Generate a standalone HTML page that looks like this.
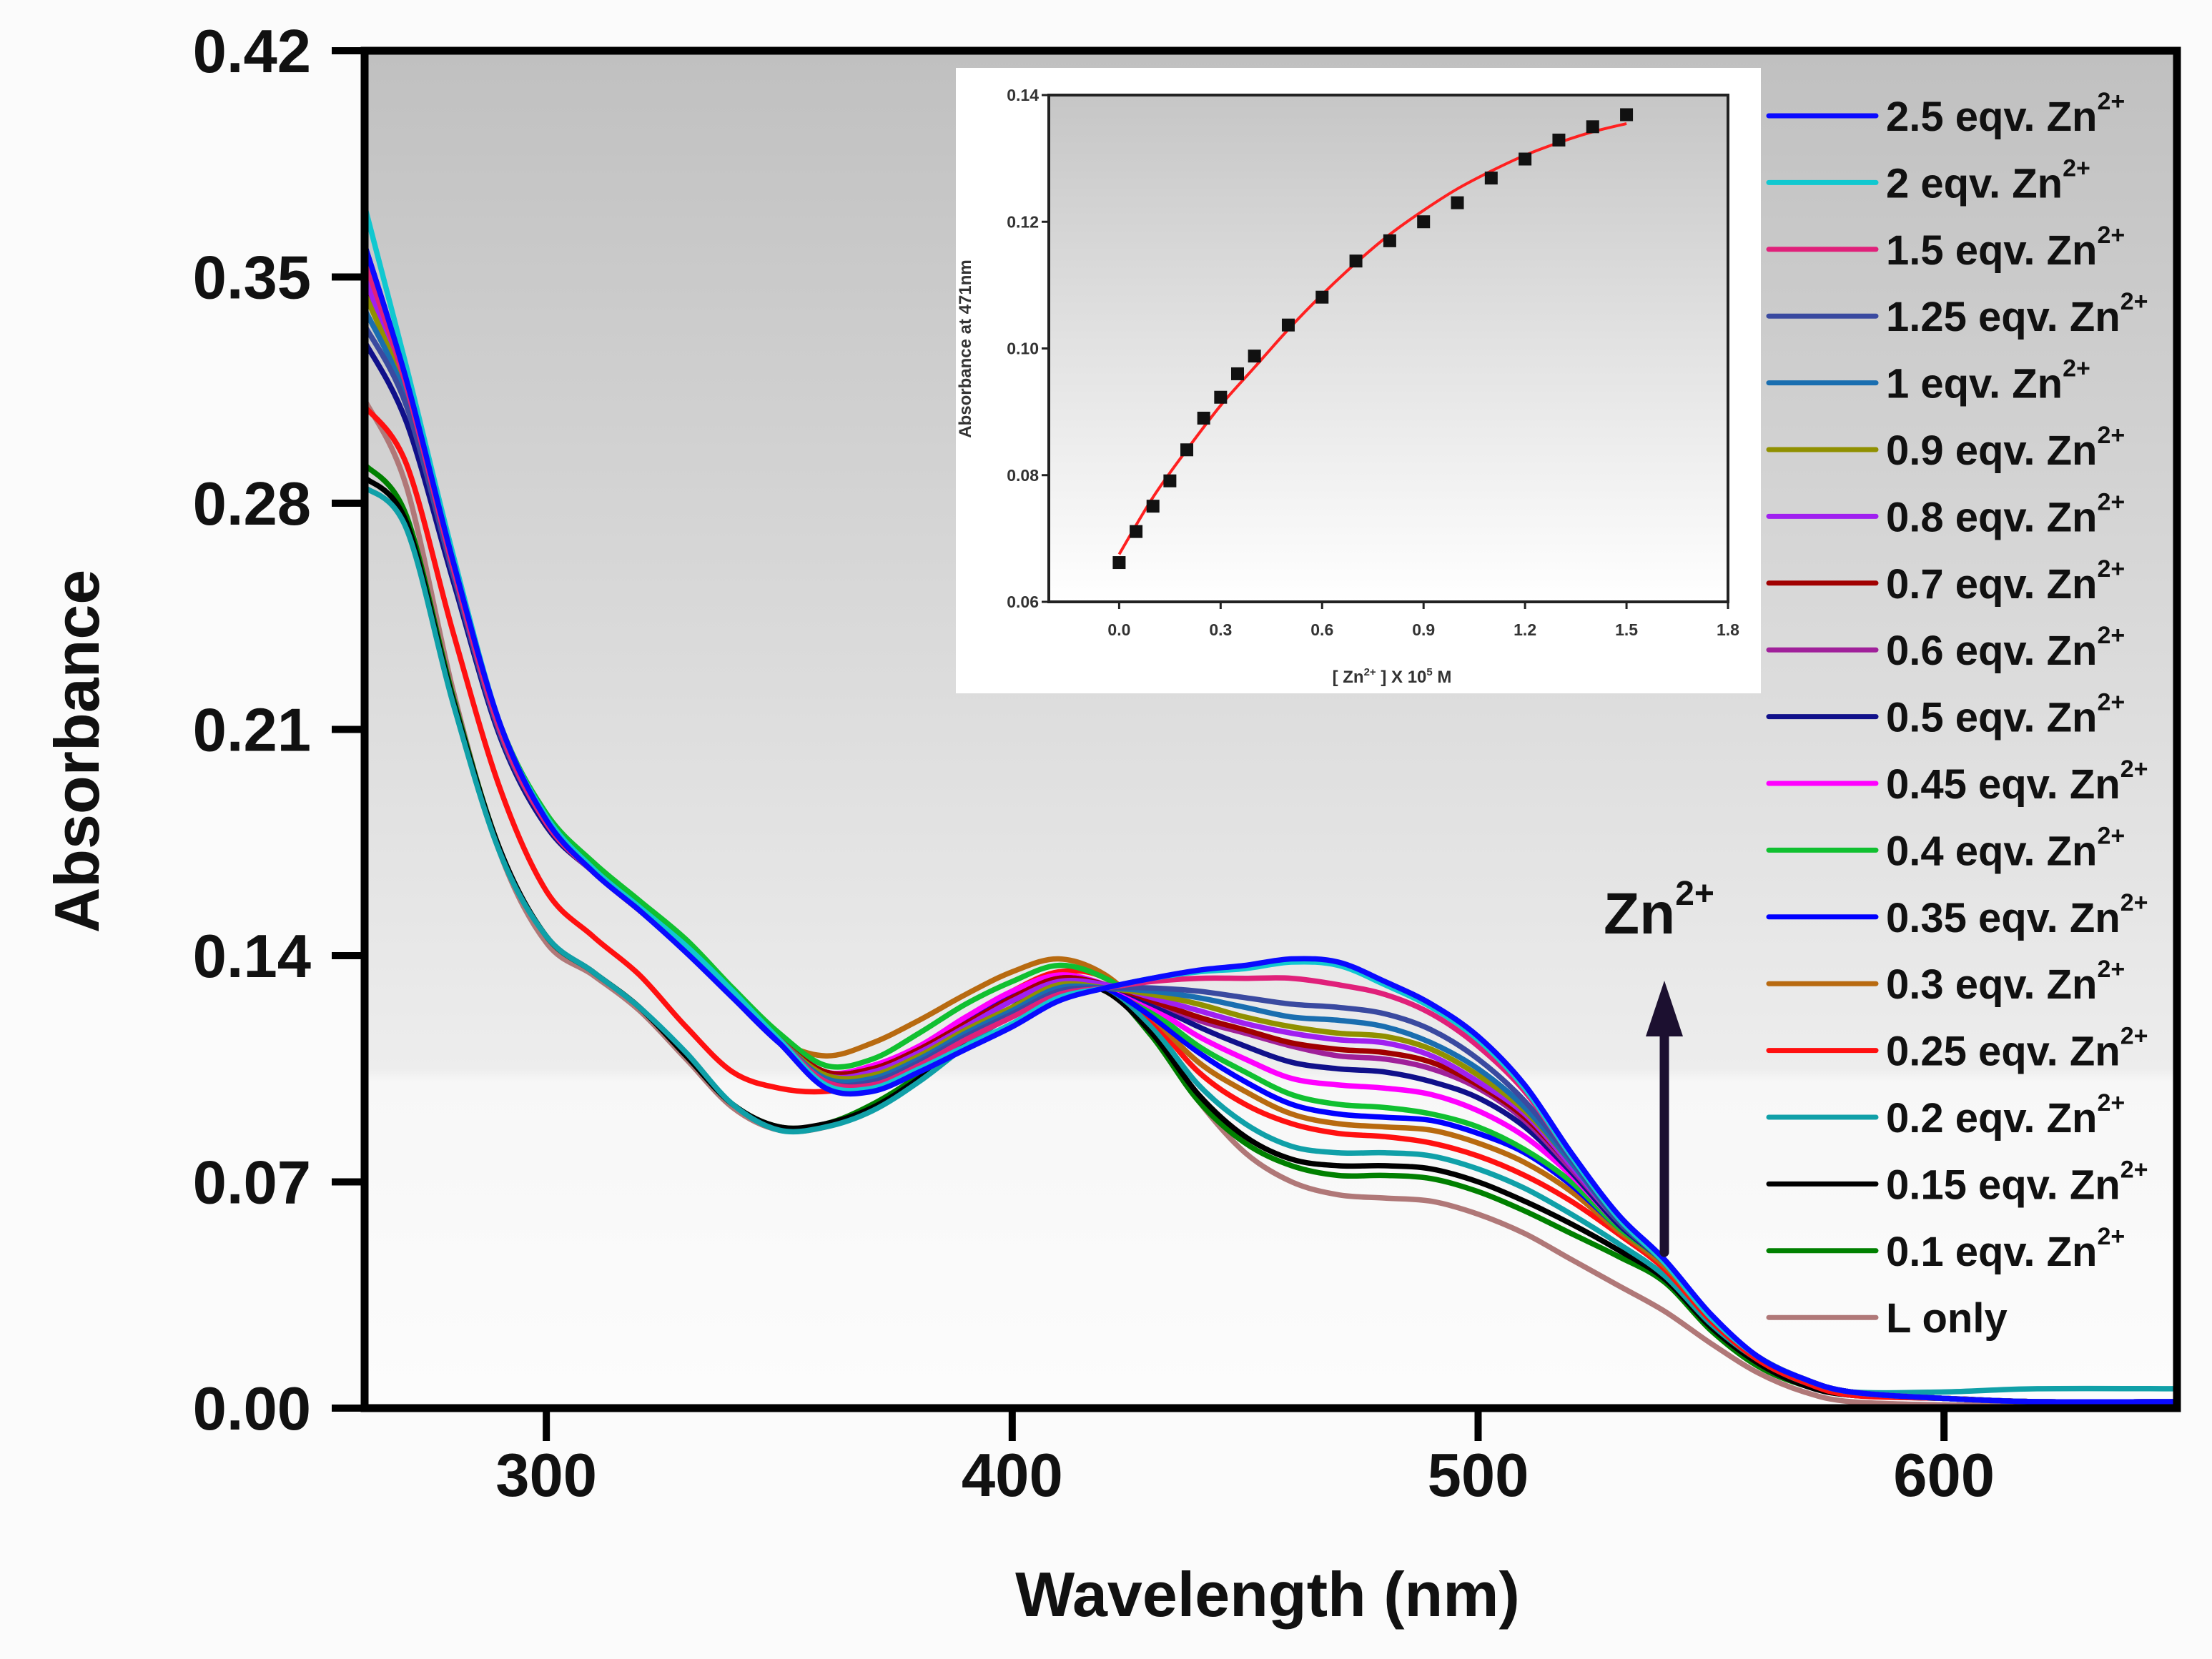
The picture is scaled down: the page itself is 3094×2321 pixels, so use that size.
<!DOCTYPE html>
<html><head><meta charset="utf-8"><style>
html,body{margin:0;padding:0;background:#fbfbfb;}
svg{display:block;font-family:"Liberation Sans",Arial,sans-serif;}
</style></head><body>
<svg id="chart" width="3094" height="2321" viewBox="0 0 3094 2321" xmlns="http://www.w3.org/2000/svg">
<defs>
<linearGradient id="bg" x1="0" y1="0" x2="0" y2="1">
<stop offset="0" stop-color="#c0c0c0"/><stop offset="0.75" stop-color="#ededed"/><stop offset="0.76" stop-color="#f7f7f7"/><stop offset="1" stop-color="#fcfcfc"/>
</linearGradient>
<linearGradient id="bg2" x1="0" y1="0" x2="0" y2="1">
<stop offset="0" stop-color="#c6c6c6"/><stop offset="1" stop-color="#ffffff"/>
</linearGradient>
</defs>
<rect x="0" y="0" width="3094" height="2321" fill="#fbfbfb"/>
<rect x="510" y="71" width="2535" height="1899" fill="url(#bg)"/>
<g id="curves"></g>
<g id="axes"></g>
<g id="legend"></g>
<g id="inset"></g>
<g>
<line x1="2328" y1="1752" x2="2328" y2="1440" stroke="#1c1030" stroke-width="13" stroke-linecap="round"/>
<polygon points="2328,1372 2302,1450 2354,1450" fill="#1c1030"/>
<text x="2243" y="1306" font-size="82" font-weight="bold" fill="#111">Zn<tspan font-size="48" dy="-40">2+</tspan></text>
</g>
<text x="1773" y="2261" font-size="88" font-weight="bold" text-anchor="middle" fill="#111">Wavelength (nm)</text>
<text x="0" y="0" font-size="88" font-weight="bold" text-anchor="middle" fill="#111" transform="translate(138,1051) rotate(-90)">Absorbance</text>
</svg>
<script>
const wavelengths=[261,270,280,290,300,310,320,330,340,350,360,370,380,390,400,410,420,430,440,450,460,470,480,490,500,510,520,530,540,550,560,570,580,600,620,650];
const seriesLabels=["2.5 eqv. Zn","2 eqv. Zn","1.5 eqv. Zn","1.25 eqv. Zn","1 eqv. Zn","0.9 eqv. Zn","0.8 eqv. Zn","0.7 eqv. Zn","0.6 eqv. Zn","0.5 eqv. Zn","0.45 eqv. Zn","0.4 eqv. Zn","0.35 eqv. Zn","0.3 eqv. Zn","0.25 eqv. Zn","0.2 eqv. Zn","0.15 eqv. Zn","0.1 eqv. Zn","L only"];
const seriesColors=["#0a0aff","#10c8d0","#e0207a","#3a4aa0","#1a6eb0","#909000","#a020f0","#a00000","#a0209a","#10108a","#ff00ff","#10c030","#0000ff","#b86a10","#ff1010","#10a0a8","#000000","#008000","#b07878"];
const s25=[0.360,0.318,0.262,0.212,0.182,0.166,0.154,0.141,0.127,0.113,0.099,0.098,0.104,0.111,0.118,0.126,0.130,0.133,0.1355,0.137,0.139,0.138,0.132,0.125,0.115,0.100,0.079,0.060,0.046,0.029,0.016,0.009,0.005,0.003,0.002,0.002];
const s20=[0.372,0.322,0.264,0.212,0.183,0.167,0.155,0.143,0.129,0.114,0.100,0.099,0.105,0.112,0.119,0.127,0.130,0.133,0.135,0.136,0.138,0.137,0.131,0.124,0.114,0.099,0.078,0.059,0.045,0.028,0.016,0.009,0.005,0.003,0.002,0.002];
const s15=[0.355,0.316,0.260,0.210,0.181,0.166,0.154,0.142,0.128,0.114,0.101,0.100,0.106,0.114,0.121,0.128,0.130,0.132,0.133,0.133,0.133,0.131,0.128,0.122,0.112,0.098,0.078,0.059,0.045,0.028,0.016,0.009,0.005,0.003,0.002,0.002];
const s125=[0.335,0.310,0.258,0.209,0.181,0.166,0.154,0.142,0.128,0.114,0.101,0.101,0.107,0.115,0.122,0.129,0.130,0.130,0.129,0.127,0.125,0.124,0.122,0.117,0.108,0.095,0.077,0.058,0.045,0.028,0.016,0.009,0.005,0.003,0.002,0.002];
const s10=[0.340,0.312,0.259,0.210,0.181,0.166,0.154,0.142,0.128,0.114,0.102,0.102,0.108,0.116,0.123,0.130,0.130,0.129,0.127,0.124,0.121,0.120,0.118,0.113,0.105,0.093,0.076,0.058,0.045,0.028,0.016,0.009,0.005,0.003,0.002,0.002];
const s09=[0.345,0.313,0.260,0.210,0.181,0.166,0.154,0.142,0.128,0.114,0.103,0.103,0.109,0.117,0.124,0.131,0.130,0.128,0.125,0.121,0.118,0.116,0.115,0.111,0.103,0.092,0.076,0.058,0.045,0.028,0.016,0.009,0.005,0.003,0.002,0.002];
const s08=[0.350,0.314,0.260,0.210,0.181,0.166,0.154,0.142,0.128,0.114,0.103,0.104,0.110,0.118,0.126,0.132,0.131,0.127,0.123,0.119,0.116,0.114,0.113,0.109,0.101,0.091,0.075,0.058,0.045,0.028,0.016,0.009,0.005,0.003,0.002,0.002];
const s07=[0.348,0.313,0.260,0.210,0.181,0.166,0.154,0.142,0.128,0.114,0.104,0.105,0.111,0.119,0.127,0.133,0.131,0.126,0.121,0.117,0.113,0.111,0.110,0.107,0.100,0.090,0.075,0.058,0.045,0.028,0.016,0.009,0.005,0.003,0.002,0.002];
const s06=[0.352,0.314,0.260,0.210,0.181,0.166,0.154,0.142,0.128,0.114,0.104,0.105,0.111,0.119,0.127,0.133,0.131,0.126,0.120,0.116,0.112,0.109,0.108,0.105,0.099,0.089,0.074,0.058,0.045,0.028,0.016,0.009,0.005,0.003,0.002,0.002];
const s05=[0.330,0.305,0.256,0.208,0.180,0.166,0.154,0.142,0.128,0.114,0.104,0.105,0.111,0.119,0.127,0.133,0.131,0.125,0.118,0.112,0.107,0.105,0.104,0.101,0.096,0.087,0.073,0.057,0.045,0.028,0.016,0.009,0.005,0.003,0.002,0.002];
const s045=[0.350,0.314,0.260,0.210,0.181,0.166,0.154,0.142,0.128,0.114,0.104,0.106,0.112,0.121,0.129,0.134,0.131,0.124,0.115,0.108,0.102,0.100,0.099,0.097,0.092,0.084,0.072,0.057,0.045,0.028,0.016,0.009,0.005,0.003,0.002,0.002];
const s04=[0.345,0.314,0.262,0.212,0.184,0.169,0.157,0.145,0.130,0.116,0.106,0.108,0.116,0.125,0.132,0.137,0.133,0.123,0.112,0.104,0.097,0.094,0.093,0.091,0.087,0.080,0.070,0.056,0.045,0.028,0.016,0.009,0.005,0.003,0.002,0.002];
const s035=[0.360,0.318,0.262,0.211,0.182,0.166,0.154,0.141,0.127,0.113,0.103,0.104,0.111,0.120,0.128,0.133,0.130,0.121,0.110,0.101,0.094,0.091,0.090,0.089,0.085,0.079,0.069,0.056,0.045,0.028,0.016,0.009,0.005,0.003,0.002,0.002];
const s03=[0.352,0.314,0.261,0.211,0.182,0.167,0.155,0.143,0.128,0.114,0.109,0.113,0.120,0.128,0.135,0.139,0.134,0.121,0.107,0.098,0.091,0.088,0.087,0.086,0.082,0.076,0.067,0.055,0.044,0.028,0.016,0.009,0.005,0.003,0.002,0.002];
const s025=[0.310,0.292,0.240,0.192,0.160,0.146,0.134,0.118,0.104,0.099,0.098,0.101,0.110,0.120,0.129,0.135,0.133,0.120,0.104,0.094,0.088,0.085,0.084,0.082,0.078,0.072,0.064,0.054,0.043,0.027,0.015,0.008,0.004,0.003,0.002,0.002];
const s02=[0.285,0.272,0.218,0.172,0.146,0.135,0.124,0.110,0.094,0.086,0.087,0.092,0.101,0.112,0.122,0.130,0.130,0.118,0.100,0.088,0.081,0.079,0.079,0.078,0.074,0.068,0.060,0.051,0.041,0.026,0.015,0.008,0.005,0.005,0.006,0.006];
const s015=[0.288,0.274,0.219,0.173,0.146,0.135,0.124,0.109,0.094,0.087,0.088,0.093,0.102,0.113,0.123,0.131,0.129,0.116,0.097,0.084,0.077,0.075,0.075,0.074,0.070,0.064,0.057,0.049,0.040,0.025,0.014,0.007,0.004,0.003,0.002,0.002];
const s01=[0.292,0.276,0.220,0.173,0.146,0.135,0.124,0.109,0.094,0.087,0.088,0.094,0.103,0.114,0.124,0.132,0.130,0.115,0.095,0.082,0.075,0.072,0.072,0.071,0.067,0.061,0.054,0.047,0.039,0.024,0.013,0.007,0.004,0.003,0.002,0.002];
const sL=[0.312,0.285,0.222,0.172,0.144,0.134,0.123,0.108,0.093,0.086,0.087,0.093,0.102,0.113,0.123,0.130,0.130,0.116,0.095,0.079,0.070,0.066,0.065,0.064,0.060,0.054,0.046,0.038,0.030,0.020,0.011,0.005,0.002,0.001,0.001,0.001];
const seriesValues=[s25,s20,s15,s125,s10,s09,s08,s07,s06,s05,s045,s04,s035,s03,s025,s02,s015,s01,sL];
const xTicks=[300,400,500,600];
const yTicks=[0,0.07,0.14,0.21,0.28,0.35,0.42];
const yTickLabels=["0.00","0.07","0.14","0.21","0.28","0.35","0.42"];
// inset data
const insetConc=[0,0.05,0.1,0.15,0.2,0.25,0.3,0.35,0.4,0.5,0.6,0.7,0.8,0.9,1.0,1.1,1.2,1.3,1.4,1.5];
const insetAbs=[0.0662,0.0711,0.0751,0.0791,0.0840,0.0890,0.0923,0.0960,0.0988,0.1037,0.1081,0.1138,0.1170,0.1200,0.1230,0.1269,0.1299,0.1329,0.1350,0.1369];
const fitConc=[0,0.1,0.2,0.3,0.4,0.5,0.6,0.7,0.8,0.9,1.0,1.1,1.2,1.3,1.4,1.5];
const fitAbs=[0.0675,0.0765,0.0840,0.0910,0.0970,0.1030,0.1085,0.1135,0.1180,0.1218,0.1252,0.1280,0.1305,0.1325,0.1342,0.1355];
const insetXTicks=[0.0,0.3,0.6,0.9,1.2,1.5,1.8];
const insetYTicks=[0.06,0.08,0.10,0.12,0.14];

const NS="http://www.w3.org/2000/svg";
function mk(tag,attrs,parent){const e=document.createElementNS(NS,tag);for(const k in attrs)e.setAttribute(k,attrs[k]);parent.appendChild(e);return e;}
const L=510,R=3045,T=71,B=1970,XMIN=261,XMAX=650;
const xs=v=>L+(v-XMIN)/(XMAX-XMIN)*(R-L);
const ys=v=>B-v/0.42*(B-T);
function smooth(pts){let d="M"+pts[0][0].toFixed(1)+","+pts[0][1].toFixed(1);
for(let i=0;i<pts.length-1;i++){const p0=pts[Math.max(0,i-1)],p1=pts[i],p2=pts[i+1],p3=pts[Math.min(pts.length-1,i+2)];
const c1=[p1[0]+(p2[0]-p0[0])/6,p1[1]+(p2[1]-p0[1])/6],c2=[p2[0]-(p3[0]-p1[0])/6,p2[1]-(p3[1]-p1[1])/6];
d+=" C"+c1[0].toFixed(1)+","+c1[1].toFixed(1)+" "+c2[0].toFixed(1)+","+c2[1].toFixed(1)+" "+p2[0].toFixed(1)+","+p2[1].toFixed(1);}
return d;}
const curves=document.getElementById('curves');
for(let i=seriesValues.length-1;i>=0;i--){
 const pts=wavelengths.map((w,j)=>[xs(w),ys(seriesValues[i][j])]);
 const p=mk('path',{d:smooth(pts),fill:'none',stroke:seriesColors[i],'stroke-width':7.5,'stroke-linejoin':'round'},curves);
 
 
}
const axes=document.getElementById('axes');
const fr=mk('rect',{x:L,y:T,width:R-L,height:B-T,fill:'none',stroke:'#000','stroke-width':11},axes);


yTicks.forEach((v,i)=>{
 const t=mk('line',{x1:L-46,x2:L,y1:ys(v),y2:ys(v),stroke:'#000','stroke-width':10},axes);
 
 
 const tx=mk('text',{x:435,y:ys(v)+30,'font-size':85,'font-weight':'bold','text-anchor':'end',fill:'#111'},axes);
 tx.textContent=yTickLabels[i];
 
 
});
xTicks.forEach(v=>{
 const t=mk('line',{x1:xs(v),x2:xs(v),y1:B,y2:B+46,stroke:'#000','stroke-width':10},axes);
 
 
 const tx=mk('text',{x:xs(v),y:2093,'font-size':85,'font-weight':'bold','text-anchor':'middle',fill:'#111'},axes);
 tx.textContent=String(v);
 
 
});
const leg=document.getElementById('legend');
seriesLabels.forEach((lab,i)=>{
 const y=162+i*93.4;
 const ln=mk('line',{x1:2474,x2:2624,y1:y,y2:y,stroke:seriesColors[i],'stroke-width':7,'stroke-linecap':'round'},leg);
 
 
 const tx=mk('text',{x:2638,y:y+21,'font-size':58,'font-weight':'bold',fill:'#111'},leg);
 
 
 tx.appendChild(document.createTextNode(lab));
 if(lab!=="L only"){const sp=mk('tspan',{'font-size':34,dy:-30},tx);sp.textContent="2+";}
});
// inset
const ins=document.getElementById('inset');
const bx=mk('rect',{x:1337,y:95,width:1126,height:875,fill:'#ffffff'},ins);


const IL=1467,IR=2417,IT=133,IB=842,IXMIN=-0.208,IXMAX=1.8;
const ixs=v=>IL+(v-IXMIN)/(IXMAX-IXMIN)*(IR-IL);
const iys=v=>IB-(v-0.06)/0.08*(IB-IT);
const ib=mk('rect',{x:IL,y:IT,width:IR-IL,height:IB-IT,fill:'url(#bg2)',stroke:'#222','stroke-width':4},ins);


insetYTicks.forEach(v=>{
 const t=mk('line',{x1:IL-10,x2:IL,y1:iys(v),y2:iys(v),stroke:'#222','stroke-width':3},ins);
 
 
 const tx=mk('text',{x:IL-14,y:iys(v)+8,'font-size':23,'font-weight':'bold','text-anchor':'end',fill:'#333'},ins);
 tx.textContent=v.toFixed(2);
 
 
});
insetXTicks.forEach(v=>{
 const t=mk('line',{x1:ixs(v),x2:ixs(v),y1:IB,y2:IB+10,stroke:'#222','stroke-width':3},ins);
 
 
 const tx=mk('text',{x:ixs(v),y:889,'font-size':23,'font-weight':'bold','text-anchor':'middle',fill:'#333'},ins);
 tx.textContent=v.toFixed(1);
 
 
});
const fit=mk('path',{d:smooth(fitConc.map((c,i)=>[ixs(c),iys(fitAbs[i])])),fill:'none',stroke:'#ff2020','stroke-width':4},ins);


insetConc.forEach((c,i)=>{
 const r=mk('rect',{x:ixs(c)-9,y:iys(insetAbs[i])-9,width:18,height:18,fill:'#111'},ins);
 
 
});
const iyl=mk('text',{x:0,y:0,'font-size':24,'font-weight':'bold','text-anchor':'middle',fill:'#333',transform:'translate(1358,488) rotate(-90)'},ins);
iyl.textContent="Absorbance at 471nm";


const ixl=mk('text',{x:1947,y:955,'font-size':24,'font-weight':'bold','text-anchor':'middle',fill:'#333'},ins);


ixl.appendChild(document.createTextNode("[ Zn"));
const a=mk('tspan',{'font-size':15,dy:-10},ixl);a.textContent="2+";
const b=mk('tspan',{dy:10},ixl);b.textContent=" ] X 10";
const c=mk('tspan',{'font-size':15,dy:-10},ixl);c.textContent="5";
const d=mk('tspan',{dy:10},ixl);d.textContent=" M";
</script>
</body></html>
